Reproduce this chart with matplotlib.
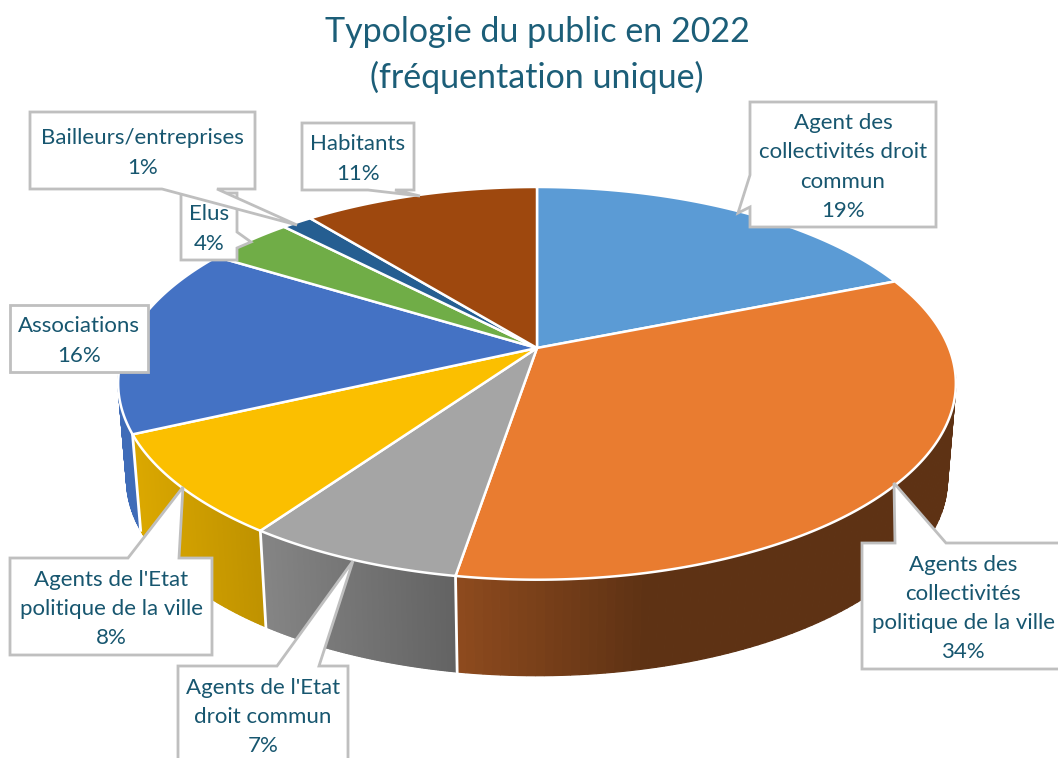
import numpy as np
import matplotlib as mpl
mpl.use('Agg')
import matplotlib.pyplot as plt
from matplotlib.patches import Polygon

plt.rcParams['font.family'] = ['Lato', 'DejaVu Sans']

title = "Typologie du public en 2022\n(fréquentation unique)"
labels = ["Agent des\ncollectivités droit\ncommun",
          "Agents des\ncollectivités\npolitique de la ville",
          "Agents de l'Etat\ndroit commun",
          "Agents de l'Etat\npolitique de la ville",
          "Associations",
          "Elus",
          "Bailleurs/entreprises",
          "Habitants"]
values = [18.9, 33.7, 7.1, 8.4, 15.7, 4.0, 1.4, 10.8]
colors = ['#5B9BD5', '#E97C30', '#A5A5A5', '#FBBF00', '#4472C4', '#70AD47', '#255E91', '#9E480E']
side_left = ['#3F6C95', '#8F4B1E', '#858585', '#DBA800', '#3F6CB8', '#4F7A32', '#1A4268', '#6E3209']
side_right = ['#3F6C95', '#5E3214', '#636363', '#BF9200', '#3F6CB8', '#4F7A32', '#1A4268', '#6E3209']

# callout boxes, in pixels: left, top, right, bottom, then base and tip of the pointer
boxes = [(750, 102, 936, 227, [(750, 175), (738, 213), (750, 207)]),
         (862, 543, 1070, 669, [(895, 543), (894, 483), (946, 543)]),
         (178, 666, 348, 775, [(277, 666), (353, 561), (319, 666)]),
         (10, 558, 212, 655, [(128, 558), (183, 487), (179, 558)]),
         (10, 305, 148, 372, None),
         (181, 193, 237, 260, [(237, 232), (251, 242), (237, 248)]),
         (30, 112, 255, 189, [(162, 189), (297, 225), (217, 189)]),
         (302, 123, 414, 190, [(368, 190), (420, 196), (395, 190)])]

cx, cy = 537, 348
R, S, k = 412, 190, 0.18
depth, shrink = 96, 0.98
line_col = '#BFBFBF'
text_col = '#17566F'


def rim(theta):
    u, v = np.sin(theta), np.cos(theta)
    w = 1 + k * v
    return cx + R * u / w, cy - S * v / w


def lower(x, y):
    return cx + (x - cx) * shrink, y + depth


def mix(c1, c2, t):
    return tuple((1 - t) * np.array(mpl.colors.to_rgb(c1)) + t * np.array(mpl.colors.to_rgb(c2)))


fig = plt.figure(figsize=(10.58, 7.58), dpi=100)
ax = fig.add_axes([0, 0, 1, 1])
ax.set_xlim(0, 1058)
ax.set_ylim(758, 0)
ax.axis('off')

edges = np.concatenate([[0], np.cumsum(values)]) / sum(values) * 2 * np.pi

# sides first, drawn as thin strips so the shade can run along the rim
for i in range(len(values)):
    t = np.linspace(edges[i], edges[i + 1], 120)
    x, y = rim(t)
    xl, yl = lower(x, y)
    visible = (t > np.radians(96)) & (t < np.radians(262))
    for j in range(len(t) - 1):
        if not visible[j]:
            continue
        f = np.clip((xl[j] - xl.min()) / max(min(xl.max() - xl.min(), 190), 1), 0, 1)
        c = mix(side_left[i], side_right[i], f)
        quad = [(x[j], y[j]), (x[j + 1], y[j + 1]), (xl[j + 1], yl[j + 1]), (xl[j], yl[j])]
        ax.add_patch(Polygon(quad, fc=c, ec=c, lw=0.9, zorder=1))

# white seams between the sides
for i in range(1, 5):
    x, y = rim(edges[i])
    if edges[i] > np.radians(96):
        xl, yl = lower(x, y)
        ax.plot([x, xl], [y, yl], color='white', lw=2, zorder=2)

# top of the pie
for i in range(len(values)):
    t = np.linspace(edges[i], edges[i + 1], 200)
    x, y = rim(t)
    pts = np.column_stack([np.r_[cx, x], np.r_[cy, y]])
    ax.add_patch(Polygon(pts, fc=colors[i], ec='white', lw=1.8, joinstyle='round', zorder=3))

# callouts with the percentage under the label
for i in range(len(boxes)):
    l, t, r, b, pointer = boxes[i]
    pts = [(l, t), (r, t), (r, b), (l, b)]
    # put the pointer into the side of the box it starts from
    if pointer is not None:
        (x0, y0), tip, (x1, y1) = pointer
        if y0 == t:
            pts = [(l, t), (x0, y0), tip, (x1, y1), (r, t), (r, b), (l, b)]
        elif y0 == b:
            pts = [(l, t), (r, t), (r, b), (x1, y1), tip, (x0, y0), (l, b)]
        elif x0 == r:
            pts = [(l, t), (r, t), (x0, y0), tip, (x1, y1), (r, b), (l, b)]
        else:
            pts = [(l, t), (r, t), (r, b), (l, b), (x1, y1), tip, (x0, y0)]
    ax.add_patch(Polygon(pts, fc='white', ec=line_col, lw=2, joinstyle='miter', zorder=5 + i * 0.1))
    txt = labels[i] + "\n{:.0f}%".format(values[i])
    tx = (l + min(r, 1058)) / 2 + (3 if r > 1058 else 0)
    ty = (t + b) / 2 + 2.5 if b < 758 else 717
    ax.text(tx, ty, txt, ha='center', va='center', fontsize=16, color=text_col,
            linespacing=1.58, zorder=5.05 + i * 0.1)

ax.text(537, 55, title, ha='center', va='center', fontsize=24.5, color='#1C5E78', linespacing=1.44)

plt.savefig('out.png', dpi=100)
